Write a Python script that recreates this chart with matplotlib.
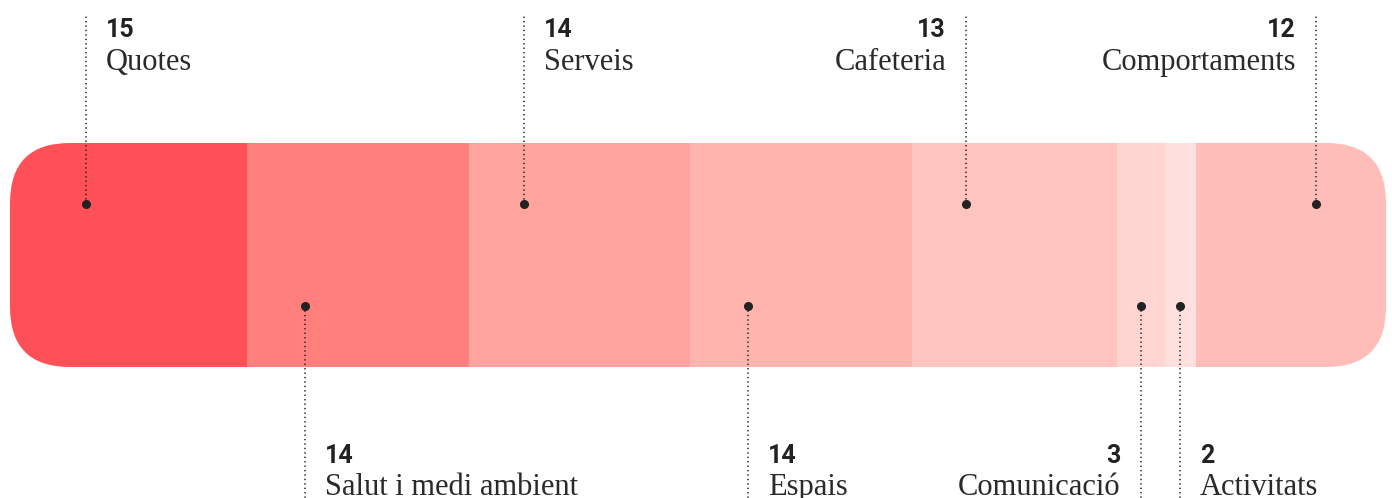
import matplotlib
matplotlib.use('Agg')
import matplotlib.pyplot as plt
from matplotlib.patches import FancyBboxPatch

# categories and values, in bar order
labels = ['Quotes', 'Salut i medi ambient', 'Serveis', 'Espais', 'Cafeteria',
          'Comunicació', 'Activitats', 'Comportaments']
values = [15, 14, 14, 14, 13, 3, 2, 12]
colors = ['#FF5058', '#FF7F7D', '#FFA49F', '#FFB4AE', '#FFC3C0',
          '#FFD4D1', '#FFE0DE', '#FFBDB9']
# where the callout sits inside each segment (fraction of its width)
anchor = [0.32, 0.26, 0.25, 0.26, 0.265, 0.5, 0.49, 0.63]
side = ['top', 'bottom', 'top', 'bottom', 'top', 'bottom', 'bottom', 'top']
align = ['left', 'left', 'left', 'left', 'right', 'right', 'left', 'right']

W, H = 1392, 498
fig = plt.figure(figsize=(W / 100, H / 100), dpi=100)
ax = fig.add_axes([0, 0, 1, 1])

total = sum(values)
left_px, right_px = 10, 1386
scale = (right_px - left_px) / total  # px per unit
ax.set_xlim(-left_px / scale, total + (W - right_px) / scale)
ax.set_ylim(H, 0)
ax.axis('off')

bar_top, bar_bot = 143, 367
bar_mid = (bar_top + bar_bot) / 2
radius = 60

# rounded outline used as clip path
clip = FancyBboxPatch((0, bar_top), total, bar_bot - bar_top,
                      boxstyle='round,pad=0,rounding_size=%f' % (radius / scale),
                      mutation_aspect=scale, transform=ax.transData,
                      facecolor='none', edgecolor='none')
ax.add_patch(clip)

starts = []
acc = 0
for v in values:
    starts.append(acc)
    acc += v

bars = ax.barh(bar_mid, values, left=starts, height=bar_bot - bar_top,
               color=colors, linewidth=0)
for b in bars:
    b.set_clip_path(clip)

for lab, v, s, f, sd, al in zip(labels, values, starts, anchor, side, align):
    x = s + v * f
    if sd == 'top':
        y_dot, y_end = bar_mid - 51, 15
        y_num, y_lab = 37, 70
    else:
        y_dot, y_end = bar_mid + 51, H + 5
        y_num, y_lab = 463, 495
    ax.plot([x, x], [y_dot, y_end], color='#222222', lw=1.1,
            dashes=(0.9, 2.0), solid_capstyle='butt')
    ax.plot(x, y_dot, 'o', color='#222222', ms=5.5)
    dx = 20 if al == 'left' else -20
    ax.annotate(str(v), (x, y_num), xytext=(dx, 0), textcoords='offset pixels',
                ha=al, va='baseline', fontsize=18, fontweight='bold',
                family='Roboto', color='#222222')
    ax.annotate(lab, (x, y_lab), xytext=(dx, 0), textcoords='offset pixels',
                ha=al, va='baseline', fontsize=22,
                family='Liberation Serif', color='#2a2a2a')

fig.savefig('out.png', dpi=100)
